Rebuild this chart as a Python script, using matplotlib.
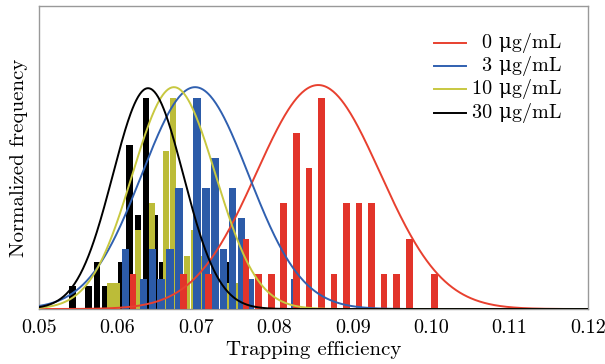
import numpy as np
import matplotlib
matplotlib.use("Agg")
import matplotlib.pyplot as plt

plt.rcParams['font.family'] = ['cmr10', 'DejaVu Serif']

# bin centres and counts, one set per concentration
x_0 = [0.0620 + 0.0016 * i for i in range(25)]
n_0 = [1, 0, 0, 0, 1, 0, 1, 0, 0, 2, 1, 1, 3, 5, 4, 6, 1, 3, 3, 3, 1, 1, 2, 0, 1]

x_3 = [0.06105 + 0.001135 * i for i in range(20)]
n_3 = [2, 0, 1, 2, 1, 2, 4, 0, 7, 4, 5, 2, 4, 3, 1, 0, 0, 0, 0, 1]

x_10 = [0.05908 + 0.000888 * i for i in range(19)]
n_10 = [1, 1, 0, 0, 3, 0, 4, 0, 6, 8, 2, 2, 3, 2, 1, 1, 0, 1, 1]

x_30 = [0.05424 + 0.001046 * i for i in range(20)]
n_30 = [1, 0, 1, 2, 1, 0, 2, 7, 4, 9, 4, 2, 1, 0, 0, 1, 0, 0, 0, 2]

# gaussian fits (mean, sigma, peak relative to tallest bar)
labels = ['0 μg/mL', '3 μg/mL', '10 μg/mL', '30 μg/mL']
fit_mu = [0.0856, 0.0699, 0.0672, 0.0639]
fit_sigma = [0.0079, 0.0068, 0.0053, 0.0045]
fit_peak = [1.06, 1.05, 1.05, 1.045]

bar_colors = ['#e2342a', '#2c5ba8', '#bcbc38', '#000000']
line_colors = ['#e8402f', '#3060b0', '#c8c840', '#000000']
widths = [0.00085, 0.00097, 0.00084, 0.00085]

fig = plt.figure(figsize=(6.05, 3.64), dpi=100)
ax = fig.add_axes([0.0645, 0.151, 0.9075, 0.8325])

series = [(x_0, n_0), (x_3, n_3), (x_10, n_10), (x_30, n_30)]
# draw bars back to front: black, yellow, blue, red
for idx in [3, 2, 1, 0]:
    xs, ns = series[idx]
    ns = np.array(ns, dtype=float)
    ax.bar(xs, ns / ns.max(), width=widths[idx], color=bar_colors[idx],
           edgecolor='none', zorder=1 + (3 - idx))

xx = np.linspace(0.05, 0.12, 600)
for i in range(4):
    yy = fit_peak[i] * np.exp(-0.5 * ((xx - fit_mu[i]) / fit_sigma[i]) ** 2)
    ax.plot(xx, yy, color=line_colors[i], lw=1.4, zorder=10)

ax.set_xlim(0.05, 0.12)
ax.set_ylim(0, 1.434)
ticks = [0.05, 0.06, 0.07, 0.08, 0.09, 0.10, 0.11, 0.12]
ax.set_xticks(ticks)
ax.set_xticklabels(['%.2f' % t for t in ticks], fontsize=14.5)
ax.tick_params(axis='x', length=0, pad=7)
ax.set_yticks([])
for s in ax.spines.values():
    s.set_color('#999999')
    s.set_linewidth(1.0)

ax.set_xlabel('Trapping efficiency', fontsize=15, labelpad=3)
ax.set_ylabel('Normalized frequency', fontsize=15, labelpad=8)

# legend drawn by hand so the labels sit flush right
for i in range(4):
    y = 0.879 - 0.077 * i
    ax.plot([0.7195, 0.7778], [y, y], transform=ax.transAxes,
            color=line_colors[i], lw=1.4, zorder=12)
    ax.text(0.951, y, labels[i], transform=ax.transAxes, ha='right',
            va='center', fontsize=14.5, zorder=12)

fig.savefig('out.png', dpi=100)
